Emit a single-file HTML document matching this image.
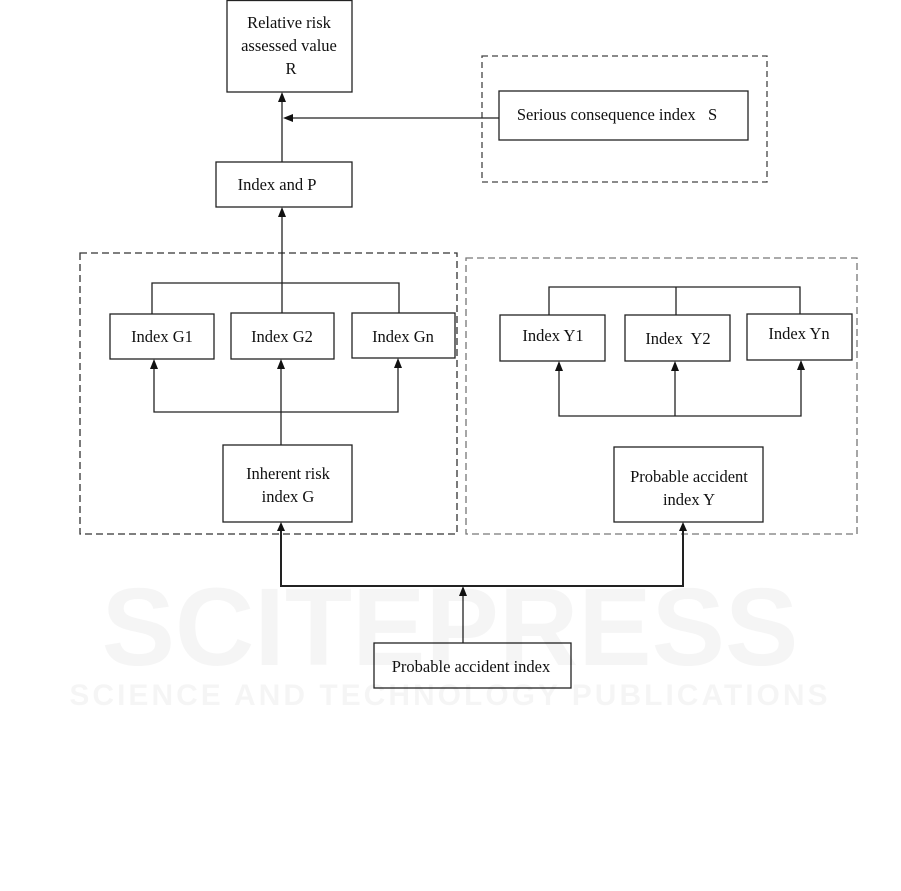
<!DOCTYPE html>
<html><head><meta charset="utf-8"><style>
html,body{margin:0;padding:0;background:#fff}
svg text{font-family:"Liberation Serif",serif;font-size:16.5px;fill:#111}
</style></head><body>
<svg width="901" height="886" viewBox="0 0 901 886" xmlns="http://www.w3.org/2000/svg">
<g fill="none" stroke="#222" stroke-width="1.3">
<rect x="227" y="0.5" width="125" height="91.5"/>
<rect x="216" y="162" width="136" height="45"/>
<rect x="499" y="91" width="249" height="49"/>
<rect x="110" y="314" width="104" height="45"/>
<rect x="231" y="313" width="103" height="46"/>
<rect x="352" y="313" width="103" height="45"/>
<rect x="500" y="315" width="105" height="46"/>
<rect x="625" y="315" width="105" height="46"/>
<rect x="747" y="314" width="105" height="46"/>
<rect x="223" y="445" width="129" height="77"/>
<rect x="614" y="447" width="149" height="75"/>
<rect x="374" y="643" width="197" height="45"/>
<rect x="482" y="56" width="285" height="126" stroke-dasharray="6,4" stroke="#444"/>
<rect x="80" y="253" width="377" height="281" stroke-dasharray="7,4" stroke="#333"/>
<rect x="466" y="258" width="391" height="276" stroke-dasharray="7,4" stroke="#777"/>
<line x1="282" y1="98" x2="282" y2="162"/>
<line x1="290" y1="118" x2="499" y2="118"/>
<line x1="282" y1="214" x2="282" y2="313"/>
<polyline points="152,314 152,283 399,283 399,313"/>
<polyline points="154,366 154,412 398,412 398,366"/>
<line x1="281" y1="366" x2="281" y2="445"/>
<polyline points="549,315 549,287 800,287 800,314"/>
<line x1="676" y1="287" x2="676" y2="315"/>
<polyline points="559,368 559,416 801,416 801,367"/>
<line x1="675" y1="368" x2="675" y2="416"/>
<polyline points="281,528 281,586 683,586 683,528" stroke-width="2"/>
<line x1="463" y1="594" x2="463" y2="643"/>
</g>
<g fill="#111">
<polygon points="282,92 278,102 286,102"/>
<polygon points="283,118 293,114 293,122"/>
<polygon points="282,207 278,217 286,217"/>
<polygon points="154,359 150,369 158,369"/>
<polygon points="281,359 277,369 285,369"/>
<polygon points="398,358 394,368 402,368"/>
<polygon points="559,361 555,371 563,371"/>
<polygon points="675,361 671,371 679,371"/>
<polygon points="801,360 797,370 805,370"/>
<polygon points="281,522 277,531 285,531"/>
<polygon points="683,522 679,531 687,531"/>
<polygon points="463,586 459,596 467,596"/>
</g>
<g text-anchor="middle">
<text x="289" y="28">Relative risk</text>
<text x="289" y="51">assessed value</text>
<text x="291" y="74">R</text>
<text x="277" y="190">Index and P</text>
<text x="617" y="120" xml:space="preserve">Serious consequence index   S</text>
<text x="162" y="342">Index G1</text>
<text x="282" y="342">Index G2</text>
<text x="403" y="342">Index Gn</text>
<text x="553" y="341">Index Y1</text>
<text x="678" y="344" xml:space="preserve">Index  Y2</text>
<text x="799" y="339">Index Yn</text>
<text x="288" y="479">Inherent risk</text>
<text x="288" y="502">index G</text>
<text x="689" y="482">Probable accident</text>
<text x="689" y="505">index Y</text>
<text x="471" y="672">Probable accident index</text>
</g>
<text x="450" y="665" text-anchor="middle" style="font-family:'Liberation Sans',sans-serif;font-size:110px;font-weight:bold;fill:#000;opacity:0.035">SCITEPRESS</text>
<text x="450" y="705" text-anchor="middle" style="font-family:'Liberation Sans',sans-serif;font-size:30px;font-weight:bold;fill:#000;opacity:0.035;letter-spacing:3px">SCIENCE AND TECHNOLOGY PUBLICATIONS</text>
</svg>
</body></html>
